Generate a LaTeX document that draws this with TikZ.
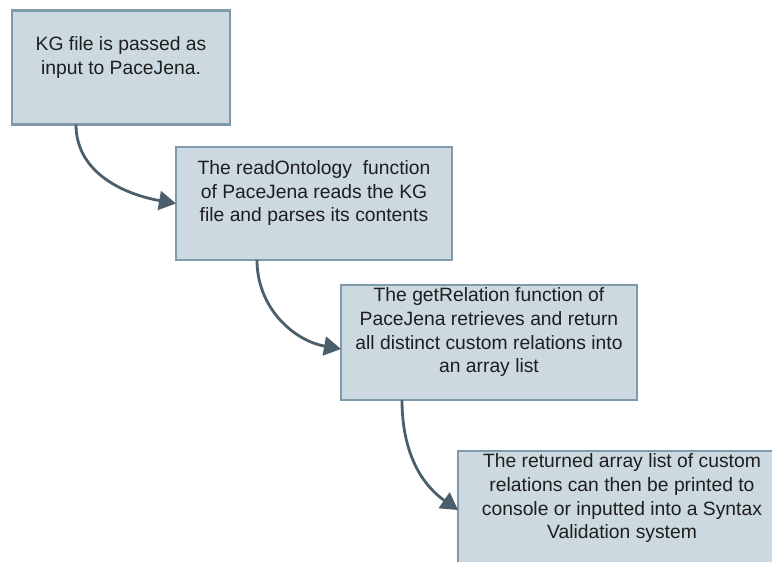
\documentclass[tikz,border=0pt]{standalone}
\usepackage{fontspec}
\setmainfont{Liberation Sans}
\usetikzlibrary{arrows.meta}
\definecolor{boxfill}{HTML}{CCD9E0}
\definecolor{boxedge}{HTML}{7F9BAB}
\definecolor{flow}{HTML}{4A5F6B}
\definecolor{ink}{HTML}{1E1E1E}
\tikzset{
  stepbox/.style={draw=boxedge, fill=boxfill, line width=2.6pt, inner sep=0pt, outer sep=0pt},
  steptext/.style={text=ink, align=center, inner sep=0pt, font=\fontsize{19.3}{23.6}\selectfont},
  flowarrow/.style={draw=flow, line width=2.8pt, -{Triangle[length=17pt,width=19pt]}},
}
\begin{document}
\begin{tikzpicture}[x=1pt,y=1pt]
\path[use as bounding box] (0,0) rectangle (772,-562);
\clip (0,0) rectangle (772,-562);

% process steps
\node[stepbox, minimum width=218pt, minimum height=114pt] (box1) at (121,-67.5) {};
\node[stepbox, minimum width=276pt, minimum height=113pt] (box2) at (314,-203.5) {};
\node[stepbox, minimum width=296pt, minimum height=115pt] (box3) at (489,-342.5) {};
\node[stepbox, minimum width=328pt, minimum height=115pt] (box4) at (622,-508.5) {};

\node[steptext, yshift=10pt] (t1) at (box1.center)
  {\strut KG file is passed as\\input to PaceJena.\strut};
\node[steptext, yshift=10pt] (t2) at (box2.center)
  {\strut The readOntology~ function\\of PaceJena reads the KG\\file and parses its contents\strut};
\node[steptext, yshift=10pt] (t3) at (box3.center)
  {\strut The getRelation function of\\PaceJena retrieves and return\\all distinct custom relations into\\an array list\strut};
\node[steptext, yshift=10pt] (t4) at (box4.center)
  {\strut The returned array list of custom\\relations can then be printed to\\console or inputted into a Syntax\\Validation system\strut};

% flow between steps
\draw[flowarrow] ([xshift=64pt]box1.south west) to[out=-90,in=170] (box2.west);
\draw[flowarrow] ([xshift=81pt]box2.south west) to[out=-90,in=170] ([yshift=-6.5pt]box3.west);
\draw[flowarrow] ([xshift=61pt]box3.south west) to[out=-90,in=145] ([yshift=-1.5pt]box4.west);
\end{tikzpicture}
\end{document}
